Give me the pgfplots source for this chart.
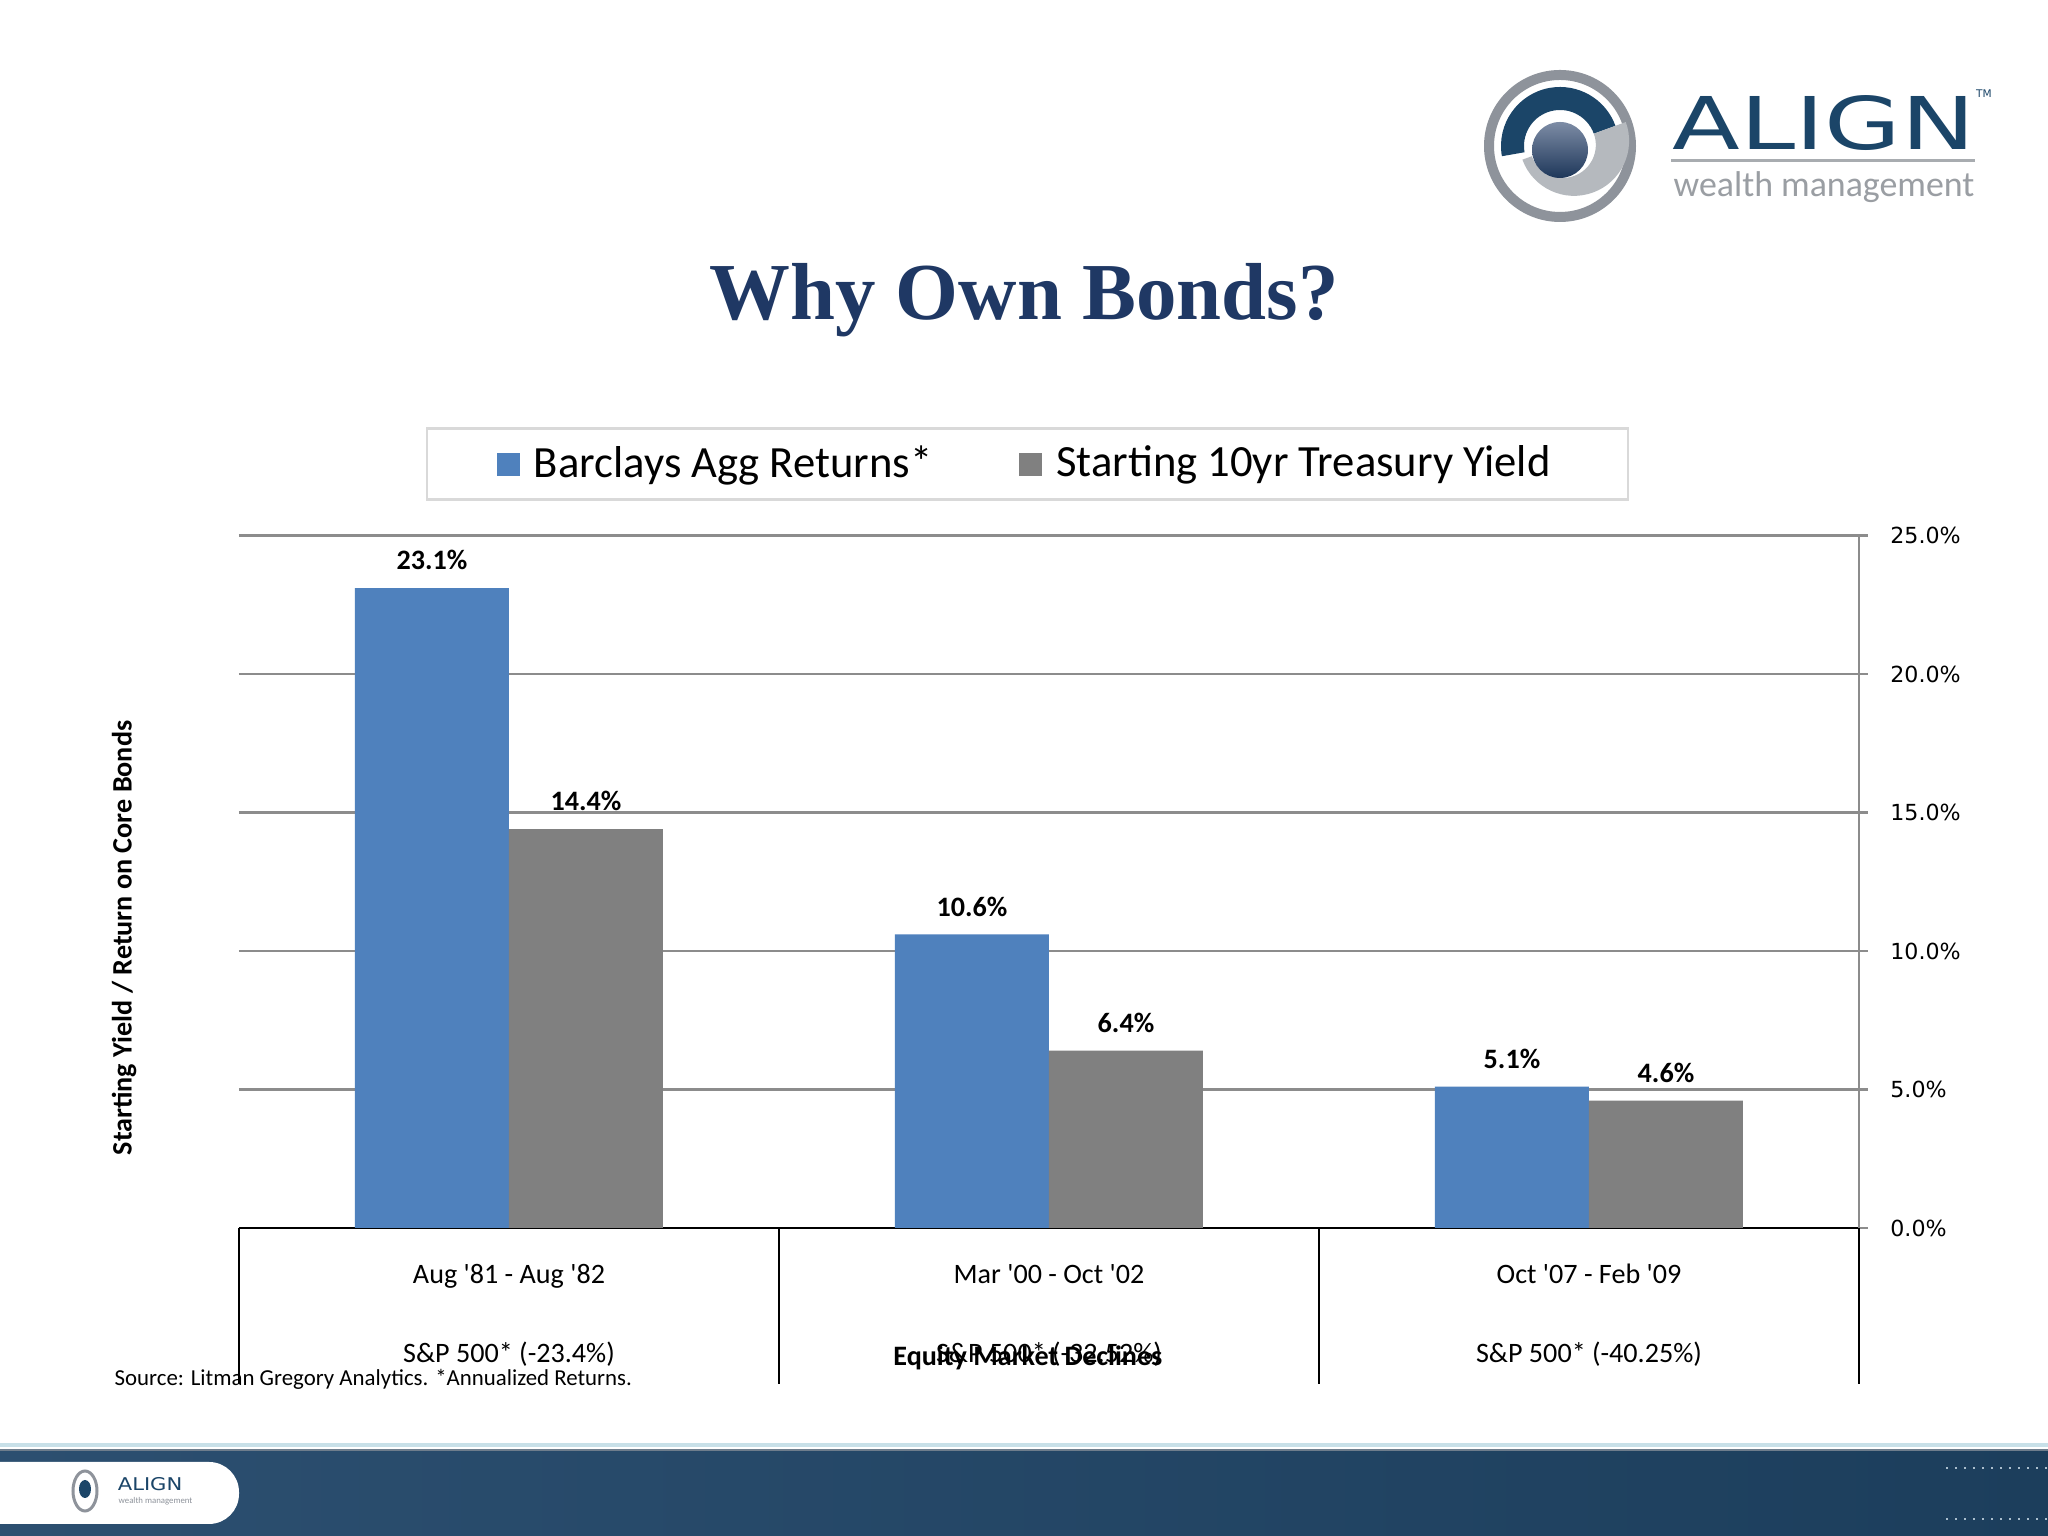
\documentclass[border=0pt]{standalone}
\usepackage{pgfplots}
\pgfplotsset{compat=1.18}
\usepackage{fontspec}
\setmainfont{Carlito}
\newfontfamily\dejavu{DejaVu Sans}
\newfontfamily\serifb{Liberation Serif}
\definecolor{barblue}{HTML}{4F81BD}
\definecolor{bargray}{HTML}{808080}
\definecolor{gridgray}{HTML}{8C8C8C}
\definecolor{titlenavy}{HTML}{1F3864}
\definecolor{logonavy}{HTML}{1B4568}
\definecolor{logogray}{HTML}{8E939B}
\definecolor{logolight}{HTML}{B5B9BE}
\definecolor{footL}{HTML}{2C4F70}
\definecolor{footR}{HTML}{1C3E5C}
\begin{document}
\begin{tikzpicture}[x=1cm,y=1cm]
\useasboundingbox (0,0) rectangle (20.48,15.36);
\fill[white] (0,0) rectangle (20.48,15.36);
% footer
\shade[left color=footL, right color=footR] (0,0) rectangle (20.48,0.85);
\fill[color={rgb,255:red,200;green,224;blue,232}] (0,0.89) rectangle (20.48,0.925);
\fill[color={rgb,255:red,110;green,125;blue,140}] (0,0.85) rectangle (20.48,0.87);
\fill[white, rounded corners=0.3cm] (-0.6,0.12) rectangle (2.39,0.74);
\begin{scope}[shift={(0.85,0.45)}]
  \draw[logogray, line width=0.03cm] (0,0) ellipse (0.12 and 0.2);
  \fill[logonavy] (0,0.02) ellipse (0.06 and 0.09);
\end{scope}
\node[anchor=west, inner sep=0, text=logonavy, xscale=1.2] at (1.17,0.52) {\dejavu\fontsize{5}{6}\selectfont ALIGN};
\node[anchor=west, inner sep=0, text=logogray] at (1.18,0.35) {\fontsize{2.5}{3}\selectfont wealth management};
\draw[color={rgb,255:red,170;green,190;blue,205}, dotted, line width=0.02cm] (19.46,0.68) -- (20.48,0.68);
\draw[color={rgb,255:red,170;green,190;blue,205}, dotted, line width=0.02cm] (19.46,0.17) -- (20.48,0.17);
% top-right logo
\begin{scope}[shift={(15.60,13.90)}]
  \draw[logogray, line width=0.1cm] (0,0) circle (0.71);
  \fill[logonavy] (190:0.59) arc (190:20:0.59) -- (20:0.36) arc (20:190:0.36) -- cycle;
  \fill[logolight] (200:0.40) arc (200:380:0.55) -- (20:0.36) arc (380:200:0.33) -- cycle;
  \shade[top color={rgb,255:red,125;green,140;blue,165}, bottom color={rgb,255:red,30;green,55;blue,90}] (0,-0.04) circle (0.28);
\end{scope}
\node[xscale=1.36, text=logonavy, inner sep=0] at (18.24,14.125) {\dejavu\fontsize{20.7}{24}\selectfont ALIGN};
\node[inner sep=0, text=logonavy] at (19.84,14.42) {\dejavu\fontsize{3}{4}\selectfont TM};
\draw[color={rgb,255:red,168;green,172;blue,176}, line width=0.03cm] (16.71,13.75) -- (19.75,13.75);
\node[anchor=base west, inner sep=0, text={rgb,255:red,154;green,158;blue,163}] at (16.73,13.39) {\fontsize{10.2}{12}\selectfont wealth management};
% title
\node[anchor=base, text=titlenavy, inner sep=0] at (10.24,12.16) {\serifb\bfseries\fontsize{23}{27}\selectfont Why Own Bonds?};
% source
\node[anchor=base west, inner sep=0] at (1.14,1.50) {\fontsize{6.5}{8}\selectfont Source: Litman Gregory Analytics. *Annualized Returns.};
\begin{axis}[
  at={(2.39cm,3.08cm)}, anchor=south west,
  scale only axis, width=16.20cm, height=6.925cm,
  xmin=-0.5, xmax=2.5, ymin=0, ymax=25,
  axis x line=bottom, axis y line=right,
  x axis line style={-, black, line width=0.8pt},
  y axis line style={-, gridgray, line width=0.6pt},
  clip=false,
  ybar=0pt, bar width=1.54cm,
  /pgf/number format/assume math mode=true,
  ytick={0,5,10,15,20,25},
  yticklabel={\pgfmathprintnumber[fixed,fixed zerofill,precision=1]{\tick}\%},
  yticklabel style={font=\dejavu\fontsize{6.3}{7.5}\selectfont, anchor=west, xshift=0.1cm},
  ymajorgrids, major grid style={gridgray, line width=0.6pt},
  ytick style={gridgray, line width=0.6pt},
  tick align=outside, major tick length=0.09cm,
  xtick={0,1,2},
  xtick style={draw=none},
  xticklabels={{Aug \textquotesingle 81 - Aug \textquotesingle 82\\[0.45cm]S\&P 500* (-23.4\%)},
               {Mar \textquotesingle 00 - Oct \textquotesingle 02\\[0.45cm]S\&P 500* (-32.52\%)},
               {Oct \textquotesingle 07 - Feb \textquotesingle 09\\[0.45cm]S\&P 500* (-40.25\%)}},
  xticklabel style={font=\fontsize{8}{9.6}\selectfont, align=center, anchor=north, yshift=-0.15cm},
  xlabel={Equity Market Declines},
  every axis x label/.style={at={(axis description cs:0.487,0)}, yshift=-1.30cm, anchor=center, font=\bfseries\fontsize{8}{9.6}\selectfont},
  ylabel={Starting Yield / Return on Core Bonds},
  every axis y label/.style={at={(axis description cs:0,0.4188)}, xshift=-1.15cm, rotate=90, anchor=center, font=\bfseries\fontsize{8}{9.6}\selectfont},
  nodes near coords={\pgfmathprintnumber[fixed,fixed zerofill,precision=1]{\pgfplotspointmeta}\%},
  every node near coord/.append style={font=\bfseries\fontsize{8}{9.6}\selectfont, text=black, yshift=0.055cm},
  legend image code/.code={\fill[#1] (0cm,-0.115cm) rectangle (0.23cm,0.115cm);},
  legend style={at={(axis description cs:0.4866,1.1032)}, anchor=center,
    draw={rgb,255:red,217;green,217;blue,217}, line width=0.6pt,
    font=\fontsize{12.7}{15}\selectfont, legend columns=2,
    /tikz/every odd column/.append style={column sep=0.07cm},
    /tikz/every even column/.append style={column sep=0.8cm},
    inner xsep=0.70cm, inner ysep=0.1cm},
  legend cell align=left,
]
\addplot[fill=barblue, draw=none] coordinates {(0,23.1) (1,10.6) (2,5.1)};
\addplot[fill=bargray, draw=none] coordinates {(0,14.4) (1,6.4) (2,4.6)};
\legend{Barclays Agg Returns*, Starting 10yr Treasury Yield}
\coordinate (t0) at (axis cs:-0.5,0);
\coordinate (t1) at (axis cs:0.5,0);
\coordinate (t2) at (axis cs:1.5,0);
\coordinate (t3) at (axis cs:2.5,0);
\end{axis}
\foreach \c in {t0,t1,t2,t3} \draw[black, line width=0.6pt] (\c) -- ++(0,-1.56);
\end{tikzpicture}
\end{document}
